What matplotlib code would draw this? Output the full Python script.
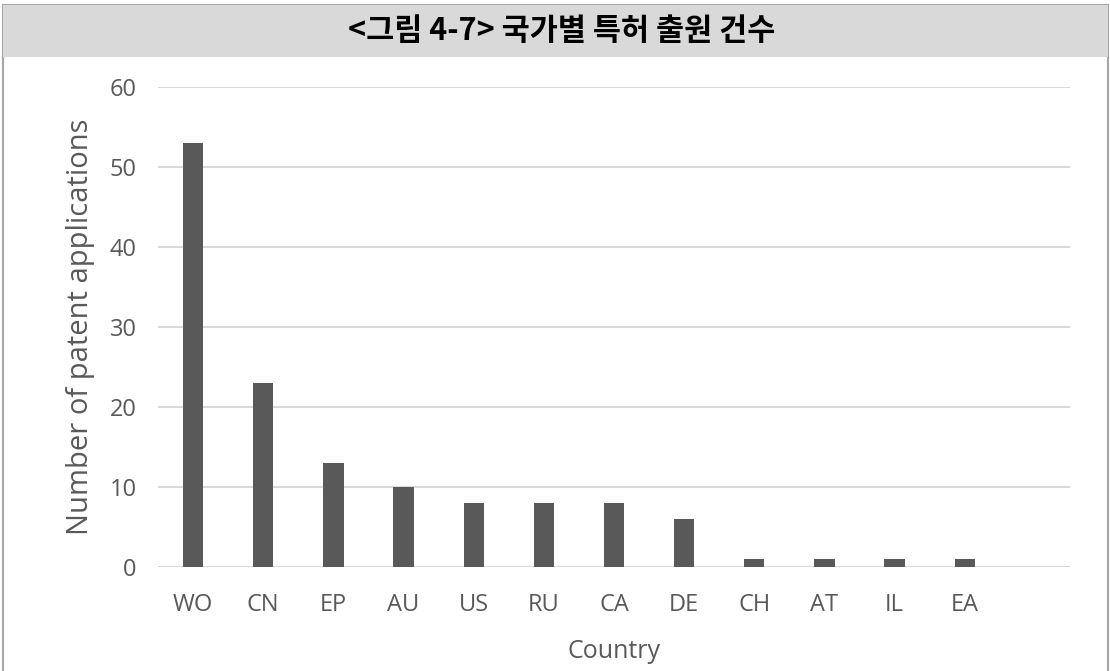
import matplotlib.pyplot as plt
from matplotlib.patches import Rectangle

# patent applications by country
countries = ['WO', 'CN', 'EP', 'AU', 'US', 'RU', 'CA', 'DE', 'CH', 'AT', 'IL', 'EA']
counts = [53, 23, 13, 10, 8, 8, 8, 6, 1, 1, 1, 1]
y_ticks = [0, 10, 20, 30, 40, 50, 60]

title = '<그림 4-7> 국가별 특허 출원 건수'
tick_color = '#595959'
bar_color = '#595959'

W, H = 1110, 671
fig = plt.figure(figsize=(W / 100, H / 100), dpi=100)

# frame and grey header band (kept behind the axes)
fig.patches.append(Rectangle((3 / W, -0.05), 1105 / W, 1.05 - 5 / H,
                             transform=fig.transFigure, facecolor='white',
                             edgecolor='#a6a6a6', linewidth=1.5, zorder=-2))
fig.patches.append(Rectangle((3 / W, 1 - 57 / H), 1105 / W, 52 / H,
                             transform=fig.transFigure, facecolor='#d9d9d9',
                             edgecolor='none', zorder=-1))
fig.text(562 / W, 1 - 31 / H, title, ha='center', va='center', fontsize=22,
         fontweight='bold', family=['Noto Sans CJK KR', 'DejaVu Sans'], color='black')

ax = fig.add_axes([158 / W, 1 - 567 / H, 912 / W, 480 / H])
ax.set_facecolor('none')
x = list(range(len(countries)))
ax.bar(x, counts, width=0.29, color=bar_color, zorder=3)
ax.set_xlim(-0.5, len(countries) + 0.5)
ax.set_ylim(0, 60)
ax.set_yticks(y_ticks)
ax.set_xticks(x)
ax.set_xticklabels(countries)
ax.yaxis.grid(True, color='#d9d9d9', linewidth=1.5, zorder=0)
ax.set_axisbelow(True)
for s in ax.spines.values():
    s.set_visible(False)
ax.tick_params(length=0, labelsize=17, colors=tick_color, pad=15.5)
ax.tick_params(axis='x', pad=18.5)
for lab in ax.get_xticklabels() + ax.get_yticklabels():
    lab.set_family('Open Sans')

ax.set_xlabel('Country', fontsize=18, color=tick_color, family='Open Sans', labelpad=16)
ax.set_ylabel('Number of patent applications', fontsize=21, color=tick_color,
              family='Open Sans', labelpad=10)

fig.savefig('out.png', dpi=100)
